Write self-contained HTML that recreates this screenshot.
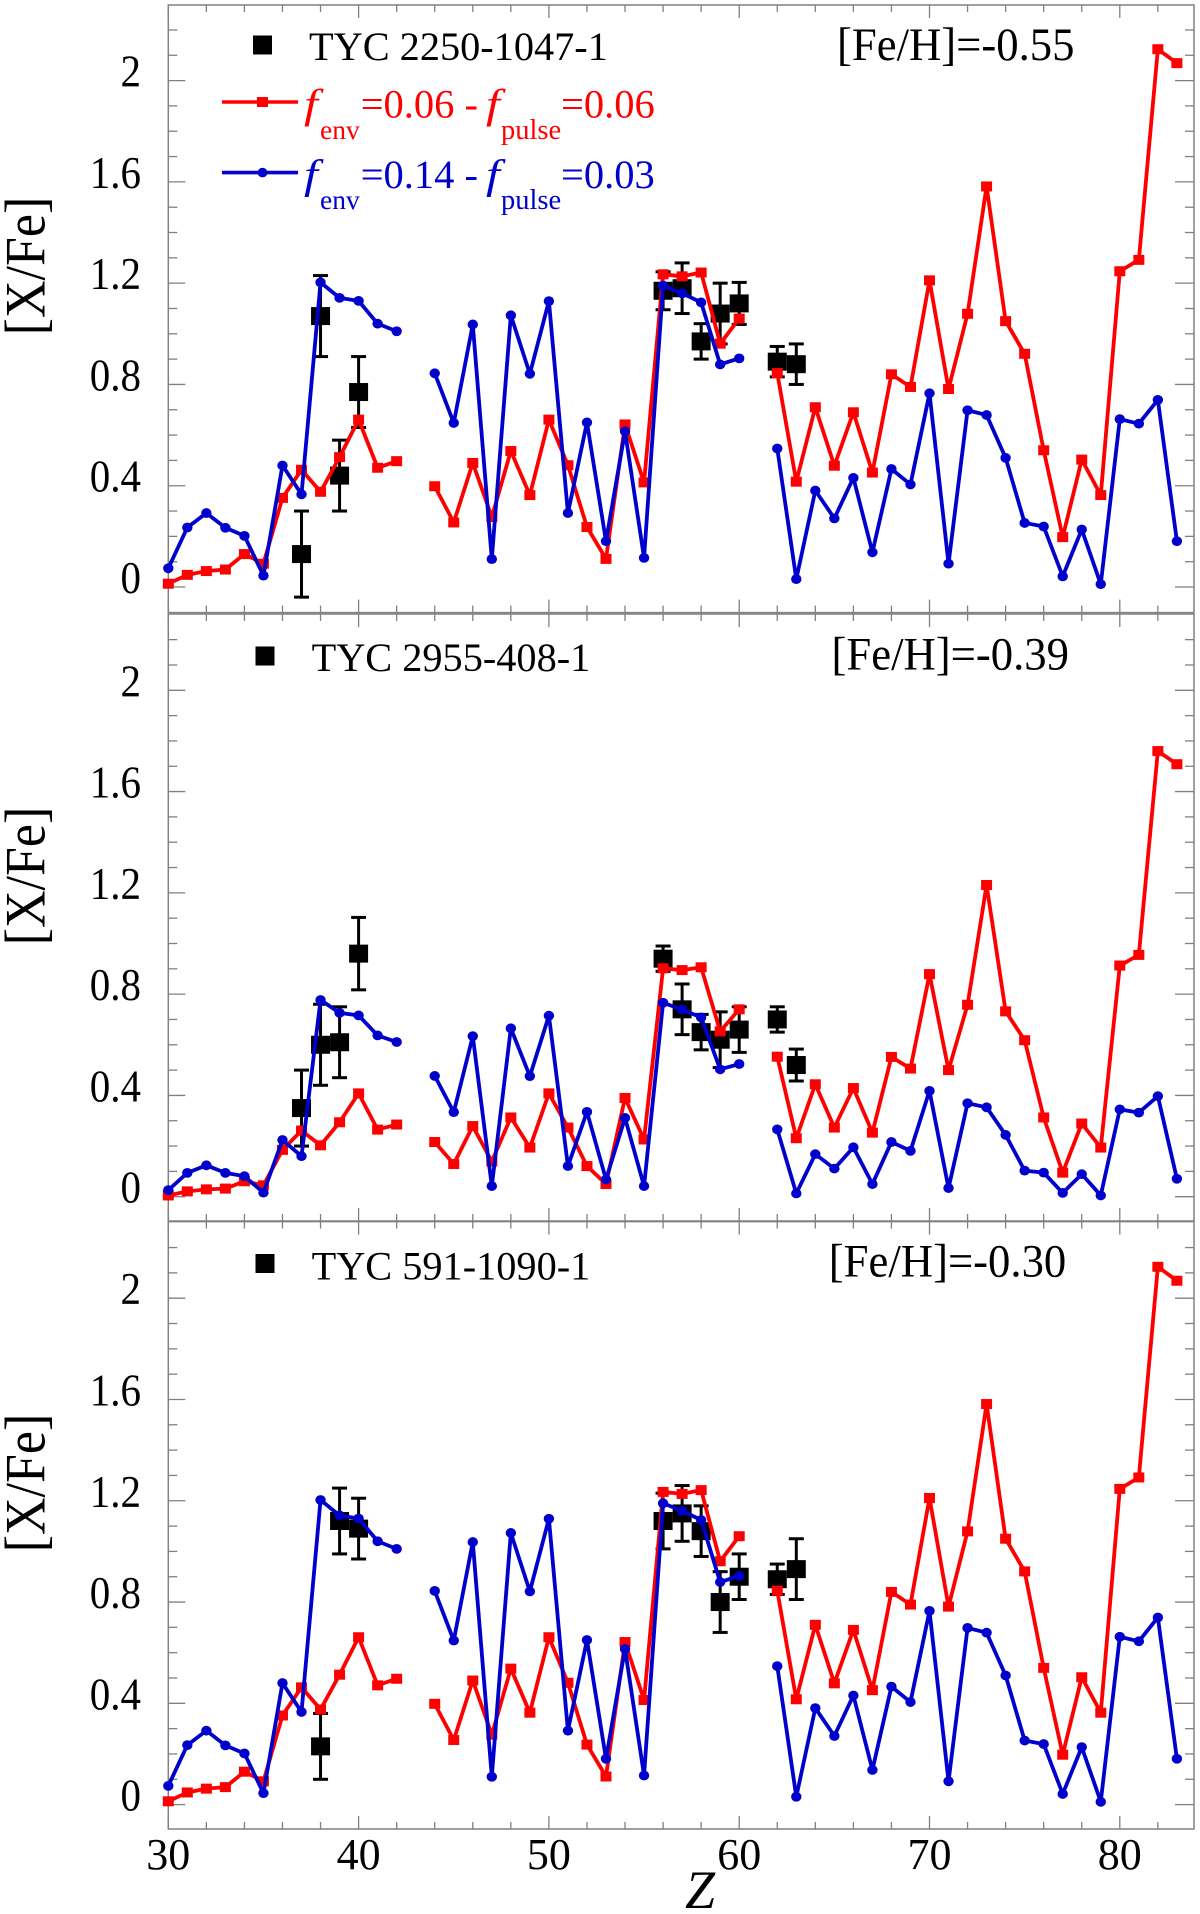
<!DOCTYPE html>
<html lang="en">
<head>
<meta charset="utf-8">
<title>[X/Fe] abundances for three TYC stars</title>
<style>
html,body{margin:0;padding:0;background:#fff;}
svg{display:block;}
text{font-family:"Liberation Serif",serif;fill:#000;}
.red{fill:#ff0000;}
.blue{fill:#0000cd;}
.it{font-style:italic;}
</style>
</head>
<body>
<svg id="chart" xmlns="http://www.w3.org/2000/svg" width="1200" height="1914" viewBox="0 0 1200 1914">
  <rect x="0" y="0" width="1200" height="1914" fill="#fff"/>
  <g id="plots"></g>

  <g>
    <rect x="253" y="35.5" width="19" height="19" fill="#000"/>
    <text x="309" y="60" font-size="40.3">TYC 2250-1047-1</text>
    <line x1="222" y1="102" x2="298" y2="102" stroke="#ff0000" stroke-width="3.6"/>
    <rect x="257" y="97" width="11" height="10" fill="#ff0000"/>
    <g class="red" font-size="40">
      <text class="red it" transform="translate(304,117.5) scale(1.25,1.03)">f</text>
      <text class="red" x="320" y="139" font-size="27.5">env</text>
      <text class="red" x="360.7" y="117.5" font-size="40.5">=0.06 -</text>
      <text class="red it" transform="translate(486,117.5) scale(1.25,1.03)">f</text>
      <text class="red" x="501" y="139" font-size="28.5">pulse</text>
      <text class="red" x="561" y="117.5" font-size="40.5">=0.06</text>
    </g>
    <line x1="222" y1="172.6" x2="298" y2="172.6" stroke="#0000cd" stroke-width="3.6"/>
    <ellipse cx="262.5" cy="172.6" rx="5" ry="4.8" fill="#0000cd"/>
    <g class="blue" font-size="40">
      <text class="blue it" transform="translate(304,187.8) scale(1.25,1.03)">f</text>
      <text class="blue" x="320" y="209" font-size="27.5">env</text>
      <text class="blue" x="360.7" y="187.8" font-size="40.5">=0.14 -</text>
      <text class="blue it" transform="translate(486,187.8) scale(1.25,1.03)">f</text>
      <text class="blue" x="501" y="209" font-size="28.5">pulse</text>
      <text class="blue" x="561" y="187.8" font-size="40.5">=0.03</text>
    </g>
  </g>
  <text transform="translate(837,60) scale(1,1.05)" font-size="44.7">[Fe/H]=-0.55</text>

  <g>
    <rect x="255.5" y="646.5" width="19" height="19" fill="#000"/>
    <text x="311.6" y="671" font-size="40.3">TYC 2955-408-1</text>
  </g>
  <text transform="translate(831.5,669.4) scale(1,1.05)" font-size="44.7">[Fe/H]=-0.39</text>

  <g>
    <rect x="255.5" y="1254" width="19" height="19" fill="#000"/>
    <text x="311.6" y="1279.5" font-size="40.3">TYC 591-1090-1</text>
  </g>
  <text transform="translate(828.8,1276.5) scale(1,1.05)" font-size="44.7">[Fe/H]=-0.30</text>

  <text transform="translate(44.7,266) rotate(-90) scale(1,1.1)" text-anchor="middle" font-size="52">[X/Fe]</text>
  <text transform="translate(44.7,876) rotate(-90) scale(1,1.1)" text-anchor="middle" font-size="52">[X/Fe]</text>
  <text transform="translate(44.7,1483) rotate(-90) scale(1,1.1)" text-anchor="middle" font-size="52">[X/Fe]</text>
  <text x="700" y="1908" text-anchor="middle" font-size="54" class="it">Z</text>
</svg>

<script>
// Shared categories and tick labels
const atomicNumbers = [30,31,32,33,34,35,36,37,38,39,40,41,42,44,45,46,47,48,49,50,51,52,53,54,55,56,57,58,59,60,62,63,64,65,66,67,68,69,70,71,72,73,74,75,76,77,78,79,80,81,82,83];
const xTickLabels = [30,40,50,60,70,80];
const yTickLabels = [0,0.4,0.8,1.2,1.6,2];

// Top panel: TYC 2250-1047-1
const topRed = [.013,.048,.063,.069,.13,.092,.352,.463,.376,.513,.661,.471,.497,.398,.255,.49,.276,.537,.363,.661,.481,.237,.111,.642,.413,1.235,1.227,1.242,.961,1.06,.845,.416,.71,.479,.69,.452,.84,.79,1.211,.782,1.079,1.582,1.05,.921,.54,.197,.503,.363,1.247,1.292,2.124,2.069];
const topBlue = [.074,.235,.292,.234,.202,.045,.48,.366,1.203,1.142,1.13,1.04,1.01,.844,.648,1.037,.11,1.073,.842,1.129,.292,.65,.181,.615,.115,1.19,1.16,1.124,.879,.903,.547,.031,.381,.271,.431,.137,.466,.405,.765,.092,.698,.679,.51,.253,.239,.042,.227,.011,.663,.645,.739,.181];
const topStarZ = [37,38,39,40,56,57,58,59,60,62,63];
const topStarValues = [.13,1.07,.44,.77,1.17,1.18,.97,1.08,1.12,.89,.88];
const topStarErrors = [.17,.16,.14,.14,.075,.10,.07,.12,.083,.06,.08];

// Middle panel: TYC 2955-408-1
const middleRed = [.005,.021,.029,.032,.061,.045,.185,.261,.203,.294,.408,.265,.285,.216,.129,.279,.139,.313,.194,.408,.273,.121,.05,.39,.226,.902,.895,.906,.653,.74,.553,.231,.444,.273,.429,.253,.552,.506,.879,.5,.758,1.231,.732,.618,.313,.095,.289,.194,.913,.955,1.76,1.708];
const middleBlue = [.026,.094,.124,.094,.081,.016,.224,.16,.777,.726,.716,.637,.611,.477,.334,.634,.042,.665,.476,.715,.121,.335,.068,.311,.042,.766,.739,.708,.503,.524,.266,.013,.168,.111,.195,.05,.216,.181,.418,.034,.369,.353,.244,.103,.095,.015,.089,.005,.345,.332,.397,.071];
const middleStarZ = [37,38,39,40,56,57,58,59,60,62,63];
const middleStarValues = [.35,.60,.61,.96,.94,.74,.65,.62,.66,.70,.52];
const middleStarErrors = [.15,.16,.14,.143,.05,.10,.07,.11,.09,.05,.063];

// Bottom panel: TYC 591-1090-1
const bottomRed = [.013,.048,.063,.069,.13,.092,.352,.463,.376,.513,.661,.471,.497,.398,.255,.49,.276,.537,.363,.661,.481,.237,.111,.642,.413,1.235,1.227,1.242,.961,1.06,.845,.416,.71,.479,.69,.452,.84,.79,1.211,.782,1.079,1.582,1.05,.921,.54,.197,.503,.363,1.247,1.292,2.124,2.069];
const bottomBlue = [.074,.235,.292,.234,.202,.045,.48,.366,1.203,1.142,1.13,1.04,1.01,.844,.648,1.037,.11,1.073,.842,1.129,.292,.65,.181,.615,.115,1.19,1.16,1.124,.879,.903,.547,.031,.381,.271,.431,.137,.466,.405,.765,.092,.698,.679,.51,.253,.239,.042,.227,.011,.663,.645,.739,.181];
const bottomStarZ = [38,39,40,56,57,58,59,60,62,63];
const bottomStarValues = [.23,1.12,1.09,1.12,1.15,1.08,.80,.90,.89,.93];
const bottomStarErrors = [.13,.13,.12,.11,.11,.10,.12,.09,.06,.12];

const NS = 'http://www.w3.org/2000/svg';
const plots = document.getElementById('plots');
const GRAY = '#808080';
const RED = '#ff0000';
const BLUE = '#0000cd';

function xScale(z) { return 168.3 + 19.03 * (z - 30); }
function yScale(zeroY, v) { return zeroY - 253.2 * v; }

function addLine(parent, x1, y1, x2, y2, color, width) {
  const el = document.createElementNS(NS, 'line');
  el.setAttribute('x1', x1);
  el.setAttribute('y1', y1);
  el.setAttribute('x2', x2);
  el.setAttribute('y2', y2);
  el.setAttribute('stroke', color);
  el.setAttribute('stroke-width', width);
  parent.appendChild(el);
  return el;
}

function drawAxes(g, name, top, bottom, zeroY, showXLabels) {
  const frame = document.createElementNS(NS, 'rect');
  
  
  frame.setAttribute('x', 168.3);
  frame.setAttribute('y', top);
  frame.setAttribute('width', 1194 - 168.3);
  frame.setAttribute('height', bottom - top);
  frame.setAttribute('fill', 'none');
  frame.setAttribute('stroke', GRAY);
  frame.setAttribute('stroke-width', 1.5);
  g.appendChild(frame);

  for (let z = 30; z <= 82; z += 2) {
    const major = z % 10 === 0;
    const len = major ? 13 : 7;
    const bottomTick = addLine(g, xScale(z), bottom, xScale(z), bottom - len, GRAY, 1.3);
    
    
    const topTick = addLine(g, xScale(z), top, xScale(z), top + len, GRAY, 1.3);
    
    
  }
  for (let i = -1; i <= 22; i++) {
    const v = i / 10;
    const major = i >= 0 && i % 4 === 0;
    const leftLen = major ? 17 : 9;
    const rightLen = major ? 19 : 9;
    const y = yScale(zeroY, v);
    if (y <= top + 2 || y >= bottom - 2) continue;
    const leftTick = addLine(g, 168.3, y, 168.3 + leftLen, y, GRAY, 1.3);
    
    
    const rightTick = addLine(g, 1194, y, 1194 - rightLen, y, GRAY, 1.3);
    
    
  }
  yTickLabels.forEach(function (v) {
    const t = document.createElementNS(NS, 'text');
    
    
    t.setAttribute('transform', 'translate(141,' + (yScale(zeroY, v) + 6) + ') scale(1,1.1)');
    t.setAttribute('text-anchor', 'end');
    t.setAttribute('font-size', '41');
    t.textContent = String(v);
    g.appendChild(t);
  });
  if (showXLabels) {
    xTickLabels.forEach(function (z) {
      const t = document.createElementNS(NS, 'text');
      
      
      t.setAttribute('x', xScale(z));
      t.setAttribute('y', 1869);
      t.setAttribute('text-anchor', 'middle');
      t.setAttribute('font-size', '44');
      t.textContent = String(z);
      g.appendChild(t);
    });
  }
}

function drawStars(g, zeroY, zs, values, errors) {
  zs.forEach(function (z, i) {
    const x = xScale(z);
    const hi = yScale(zeroY, values[i] + errors[i]);
    const lo = yScale(zeroY, values[i] - errors[i]);
    const stem = addLine(g, x, hi, x, lo, '#000', 3);
    
    
    const capTop = addLine(g, x - 7.5, hi, x + 7.5, hi, '#000', 3);
    
    
    const capBottom = addLine(g, x - 7.5, lo, x + 7.5, lo, '#000', 3);
    
    
    const sq = document.createElementNS(NS, 'rect');
    
    
    sq.setAttribute('x', x - 9.5);
    sq.setAttribute('y', yScale(zeroY, values[i]) - 9);
    sq.setAttribute('width', 19);
    sq.setAttribute('height', 18);
    sq.setAttribute('fill', '#000');
    g.appendChild(sq);
  });
}

function linePath(zeroY, values) {
  let d = '';
  atomicNumbers.forEach(function (z, i) {
    const gap = i === 0 || z - atomicNumbers[i - 1] > 1;
    d += (gap ? 'M' : 'L') + xScale(z).toFixed(2) + ' ' + yScale(zeroY, values[i]).toFixed(2);
  });
  return d;
}

function drawModelRed(g, zeroY, values) {
  const path = document.createElementNS(NS, 'path');
  
  
  path.setAttribute('d', linePath(zeroY, values));
  path.setAttribute('fill', 'none');
  path.setAttribute('stroke', RED);
  path.setAttribute('stroke-width', 3.8);
  path.setAttribute('stroke-linejoin', 'round');
  g.appendChild(path);
  atomicNumbers.forEach(function (z, i) {
    const m = document.createElementNS(NS, 'rect');
    
    
    m.setAttribute('x', xScale(z) - 5.5);
    m.setAttribute('y', yScale(zeroY, values[i]) - 5);
    m.setAttribute('width', 11);
    m.setAttribute('height', 10);
    m.setAttribute('fill', RED);
    g.appendChild(m);
  });
}

function drawModelBlue(g, zeroY, values) {
  const path = document.createElementNS(NS, 'path');
  
  
  path.setAttribute('d', linePath(zeroY, values));
  path.setAttribute('fill', 'none');
  path.setAttribute('stroke', BLUE);
  path.setAttribute('stroke-width', 3.8);
  path.setAttribute('stroke-linejoin', 'round');
  g.appendChild(path);
  atomicNumbers.forEach(function (z, i) {
    const m = document.createElementNS(NS, 'ellipse');
    
    
    m.setAttribute('cx', xScale(z));
    m.setAttribute('cy', yScale(zeroY, values[i]));
    m.setAttribute('rx', 5.2);
    m.setAttribute('ry', 4.9);
    m.setAttribute('fill', BLUE);
    g.appendChild(m);
  });
}

function drawPanel(name, top, bottom, zeroY, red, blue, starZ, starValues, starErrors, showXLabels) {
  const g = document.createElementNS(NS, 'g');
  
  
  plots.appendChild(g);
  drawAxes(g, name, top, bottom, zeroY, showXLabels);
  drawStars(g, zeroY, starZ, starValues, starErrors);
  drawModelRed(g, zeroY, red);
  drawModelBlue(g, zeroY, blue);
}

drawPanel('panel-top', 5, 612.6, 587, topRed, topBlue, topStarZ, topStarValues, topStarErrors, false);
drawPanel('panel-middle', 614, 1221, 1196.7, middleRed, middleBlue, middleStarZ, middleStarValues, middleStarErrors, false);
drawPanel('panel-bottom', 1221.6, 1829, 1804.6, bottomRed, bottomBlue, bottomStarZ, bottomStarValues, bottomStarErrors, true);
</script>
</body>
</html>
